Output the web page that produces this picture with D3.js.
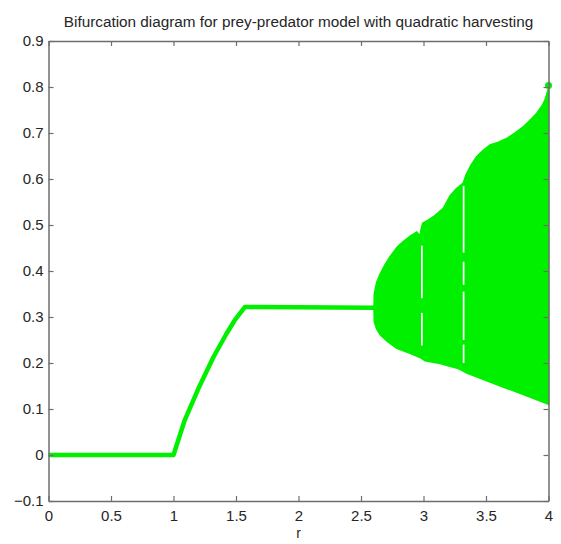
<!DOCTYPE html>
<html>
<head>
<meta charset="utf-8">
<script src="https://cdn.jsdelivr.net/npm/d3@7"></script>
<style>
  body { margin: 0; background: #fff; }
  svg { display: block; }
</style>
</head>
<body>
<div id="chart"></div>
<script>
// stable branch (fixed point)
const stableR = [0, 1.0, 1.09, 1.2, 1.32, 1.42, 1.49, 1.572, 2.0, 2.604];
const stableV = [0, 0, 0.076, 0.145, 0.213, 0.262, 0.293, 0.322, 0.321, 0.32];

// chaotic band, upper envelope
const upperR = [2.604, 2.606, 2.625, 2.652, 2.69, 2.732, 2.79, 2.838, 2.9, 2.946, 2.972, 2.98, 2.993,
    3.04, 3.079, 3.158, 3.212, 3.26, 3.318, 3.34, 3.38, 3.426, 3.48, 3.532, 3.6, 3.666, 3.73, 3.8,
    3.86, 3.906, 3.95, 3.972, 4.0];
const upperV = [0.322, 0.35, 0.375, 0.393, 0.413, 0.431, 0.452, 0.464, 0.477, 0.485, 0.476, 0.49, 0.504,
    0.511, 0.518, 0.536, 0.563, 0.578, 0.591, 0.609, 0.63, 0.649, 0.663, 0.674, 0.68, 0.688, 0.7, 0.714,
    0.73, 0.743, 0.76, 0.772, 0.797];

// chaotic band, lower envelope
const lowerR = [2.604, 2.606, 2.625, 2.652, 2.706, 2.786, 2.892, 2.972, 3.012, 3.132, 3.226, 3.278,
    3.306, 3.346, 3.558, 3.772, 3.986, 4.0];
const lowerV = [0.318, 0.29, 0.274, 0.262, 0.248, 0.232, 0.221, 0.212, 0.205, 0.199, 0.192, 0.188,
    0.184, 0.178, 0.156, 0.134, 0.112, 0.11];

// periodic windows (white stripes inside the band)
const windowR0 = [2.98, 2.98, 3.314, 3.314, 3.314, 3.314];
const windowR1 = [2.994, 2.994, 3.328, 3.328, 3.328, 3.328];
const windowLo = [0.341, 0.238, 0.44, 0.37, 0.25, 0.2];
const windowHi = [0.455, 0.309, 0.585, 0.42, 0.355, 0.24];

const xTicks = [0, 0.5, 1, 1.5, 2, 2.5, 3, 3.5, 4];
const yTicks = [-0.1, 0, 0.1, 0.2, 0.3, 0.4, 0.5, 0.6, 0.7, 0.8, 0.9];

const GREEN = "#00f000";
const AXIS = "#6e6e6e";
const TEXT = "#262626";

let width = 561, height = 544;

let x = d3.scaleLinear().domain([0, 4]).range([48.5, 548.5]);
let y = d3.scaleLinear().domain([-0.1, 0.9]).range([501, 41]);

let svg = d3.select("#chart").append("svg")
    .attr("width", width)
    .attr("height", height)
    .style("font-family", "'Liberation Sans', Arial, sans-serif");

let plot = svg.append("g");

// band polygon: upper edge left to right, lower edge back
let upper = upperR.map((r, i) => [r, upperV[i]]);
let lower = lowerR.map((r, i) => [r, lowerV[i]]).reverse();

let line = d3.line()
    .x(d => x(d[0]))
    .y(d => y(d[1]));

plot.append("path")
    .attr("d", line.curve(d3.curveLinearClosed)(upper.concat(lower)))
    .attr("fill", GREEN)
    .attr("stroke", GREEN)
    .attr("stroke-width", 1.5);

plot.selectAll(".window")
    .data(windowR0)
    .enter()
    .append("rect")
    .attr("class", "window")
    .attr("x", (d, i) => x(d))
    .attr("width", (d, i) => x(windowR1[i]) - x(d))
    .attr("y", (d, i) => y(windowHi[i]))
    .attr("height", (d, i) => y(windowLo[i]) - y(windowHi[i]))
    .attr("fill", "#fff");

plot.append("path")
    .attr("d", d3.line().x(d => x(d[0])).y(d => y(d[1]))(stableR.map((r, i) => [r, stableV[i]])))
    .attr("fill", "none")
    .attr("stroke", GREEN)
    .attr("stroke-width", 4.5)
    .attr("stroke-linejoin", "round");

// last iterate marker at r = 4
plot.append("circle")
    .attr("cx", x(4))
    .attr("cy", y(0.803))
    .attr("r", 3.5)
    .attr("fill", GREEN);

// axes, ticks pointing inward on all four sides
let xAxis = svg.append("g")
    .attr("transform", `translate(0,${y(-0.1)})`)
    .call(d3.axisBottom(x).tickValues(xTicks).tickFormat(d3.format("")).tickSizeInner(-5).tickSizeOuter(0).tickPadding(9));

let yAxis = svg.append("g")
    .attr("transform", `translate(${x(0)},0)`)
    .call(d3.axisLeft(y).tickValues(yTicks).tickFormat(d => d3.format("")(+d.toFixed(1))).tickSizeInner(-5).tickSizeOuter(0).tickPadding(5));

let xTop = svg.append("g")
    .attr("transform", `translate(0,${y(0.9)})`)
    .call(d3.axisTop(x).tickValues(xTicks).tickFormat("").tickSizeInner(-5).tickSizeOuter(0));

let yRight = svg.append("g")
    .attr("transform", `translate(${x(4)},0)`)
    .call(d3.axisRight(y).tickValues(yTicks).tickFormat("").tickSizeInner(-5).tickSizeOuter(0));

[xAxis, yAxis, xTop, yRight].forEach(a => {
    a.selectAll(".domain").attr("stroke", AXIS).attr("stroke-width", 1.5);
    a.selectAll(".tick line").attr("stroke", AXIS).attr("stroke-width", 1.2);
    a.selectAll(".tick text")
        .attr("fill", TEXT)
        .style("font-size", "15px")
        .style("font-family", "'Liberation Sans', Arial, sans-serif");
});

svg.append("text")
    .attr("x", (x(0) + x(4)) / 2)
    .attr("y", 27)
    .attr("text-anchor", "middle")
    .attr("fill", TEXT)
    .style("font-size", "15.3px")
    .text("Bifurcation diagram for prey-predator model with quadratic harvesting");

svg.append("text")
    .attr("x", (x(0) + x(4)) / 2)
    .attr("y", 538)
    .attr("text-anchor", "middle")
    .attr("fill", TEXT)
    .style("font-size", "14px")
    .text("r");
</script>
</body>
</html>
